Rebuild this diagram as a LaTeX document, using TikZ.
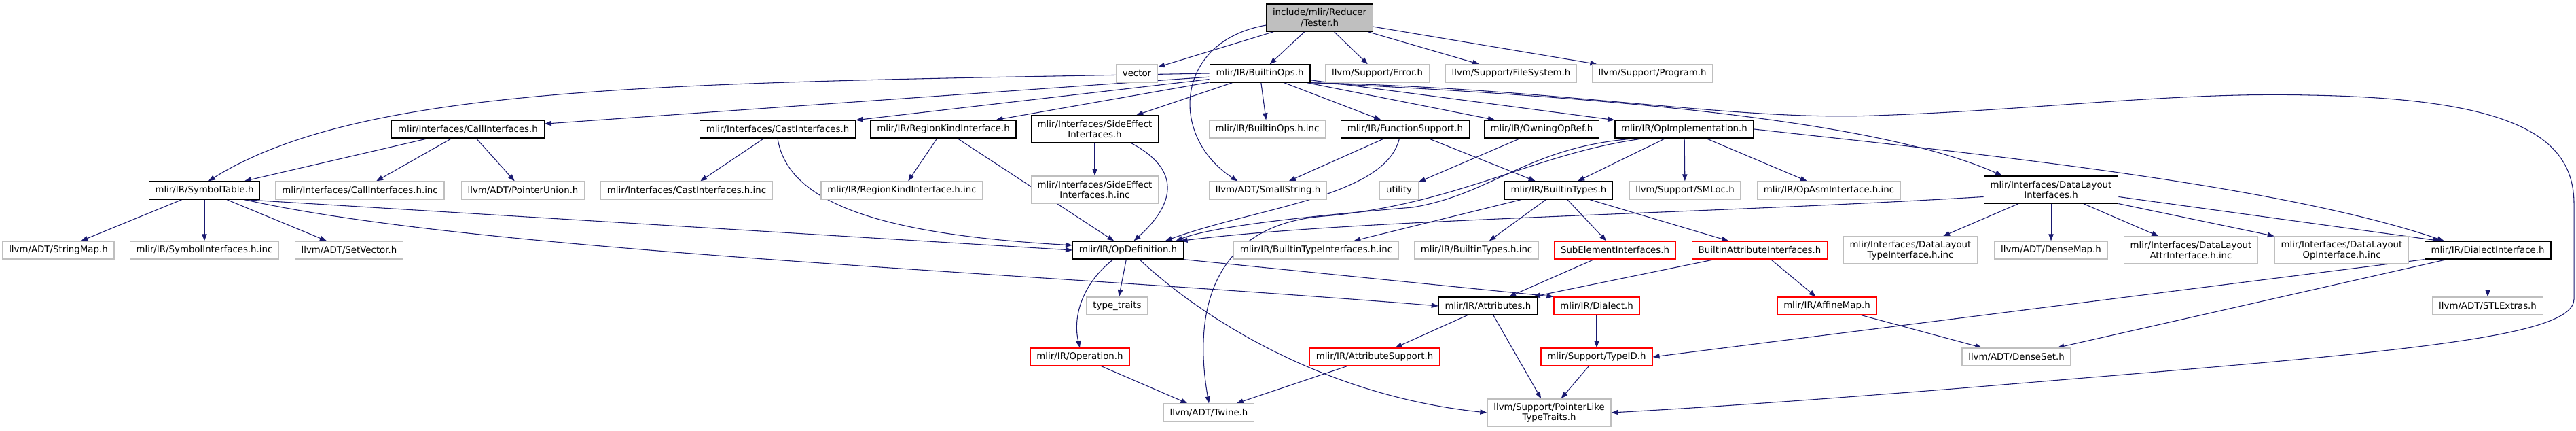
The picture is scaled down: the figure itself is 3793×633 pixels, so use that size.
\documentclass[tikz,border=0pt]{standalone}
\usepackage{fontspec}
\setmainfont{DejaVu Sans}
\usepackage{tikz}
\usetikzlibrary{arrows.meta,backgrounds}
\definecolor{edgecol}{RGB}{25,25,112}
\definecolor{extcol}{RGB}{191,191,191}
\definecolor{cutcol}{RGB}{255,0,0}
\tikzset{
  dep/.style={-{Triangle[length=7.5pt,width=5.5pt]},draw=edgecol,line width=0.8pt},
  incl/.style={draw=black,line width=1pt,fill=white,minimum height=19.5pt,
    inner xsep=7pt,inner ysep=2pt,align=center,font=\fontsize{10}{11.5}\selectfont},
  inclext/.style={incl,draw=extcol},
  inclcut/.style={incl,draw=cutcol},
  inclroot/.style={incl,fill=extcol},
  twoline/.style={minimum height=30pt}
}

\begin{document}
\begin{tikzpicture}[x=0.75pt,y=-0.75pt]
  \path[use as bounding box] (0,0) rectangle (3793,633);
  % rank 0 and 1
  \node[inclroot,twoline] (tester) at (1943,26) {include/mlir/Reducer\\/Tester.h};
  \node[inclext] (vec) at (1674,108) {vector};
  \node[incl] (bops) at (1855,108) {mlir/IR/BuiltinOps.h};
  \node[inclext] (err) at (2028,108) {llvm/Support/Error.h};
  \node[inclext] (fsys) at (2225,108) {llvm/Support/FileSystem.h};
  \node[inclext] (prog) at (2433,108) {llvm/Support/Program.h};
  % rank 2
  \node[incl] (callif) at (689,190) {mlir/Interfaces/CallInterfaces.h};
  \node[incl] (castif) at (1145,190) {mlir/Interfaces/CastInterfaces.h};
  \node[incl] (regkind) at (1389,190) {mlir/IR/RegionKindInterface.h};
  \node[incl,twoline] (sideeff) at (1612,190) {mlir/Interfaces/SideEffect\\Interfaces.h};
  \node[inclext] (bopsinc) at (1866,190) {mlir/IR/BuiltinOps.h.inc};
  \node[incl] (funcsup) at (2069,190) {mlir/IR/FunctionSupport.h};
  \node[incl] (owning) at (2270,190) {mlir/IR/OwningOpRef.h};
  \node[incl] (opimpl) at (2480,190) {mlir/IR/OpImplementation.h};
  % rank 3
  \node[incl] (symtab) at (301,280) {mlir/IR/SymbolTable.h};
  \node[inclext] (callinc) at (530,280) {mlir/Interfaces/CallInterfaces.h.inc};
  \node[inclext] (ptrunion) at (770,280) {llvm/ADT/PointerUnion.h};
  \node[inclext] (castinc) at (1011,280) {mlir/Interfaces/CastInterfaces.h.inc};
  \node[inclext] (reginc) at (1328,280) {mlir/IR/RegionKindInterface.h.inc};
  \node[inclext,twoline] (sideinc) at (1612,279) {mlir/Interfaces/SideEffect\\Interfaces.h.inc};
  \node[inclext] (smallstr) at (1867,280) {llvm/ADT/SmallString.h};
  \node[inclext] (utility) at (2060,280) {utility};
  \node[incl] (btypes) at (2295,280) {mlir/IR/BuiltinTypes.h};
  \node[inclext] (smloc) at (2481,280) {llvm/Support/SMLoc.h};
  \node[inclext] (asminc) at (2693,280) {mlir/IR/OpAsmInterface.h.inc};
  \node[incl,twoline] (dlayout) at (3020,279) {mlir/Interfaces/DataLayout\\Interfaces.h};
  % rank 4
  \node[inclext] (strmap) at (86,368) {llvm/ADT/StringMap.h};
  \node[inclext] (syminc) at (301,368) {mlir/IR/SymbolInterfaces.h.inc};
  \node[inclext] (setvec) at (514,368) {llvm/ADT/SetVector.h};
  \node[incl] (opdef) at (1661,368) {mlir/IR/OpDefinition.h};
  \node[inclext] (btiinc) at (1938,368) {mlir/IR/BuiltinTypeInterfaces.h.inc};
  \node[inclext] (btinc) at (2174,368) {mlir/IR/BuiltinTypes.h.inc};
  \node[inclcut] (subelem) at (2378,368) {SubElementInterfaces.h};
  \node[inclcut] (battr) at (2591,368) {BuiltinAttributeInterfaces.h};
  \node[inclext,twoline] (dltype) at (2813,368) {mlir/Interfaces/DataLayout\\TypeInterface.h.inc};
  \node[inclext] (densemap) at (3020,368) {llvm/ADT/DenseMap.h};
  \node[inclext,twoline] (dlattr) at (3226,368) {mlir/Interfaces/DataLayout\\AttrInterface.h.inc};
  \node[inclext,twoline] (dlop) at (3448,368) {mlir/Interfaces/DataLayout\\OpInterface.h.inc};
  \node[incl] (dialif) at (3663,368) {mlir/IR/DialectInterface.h};
  % rank 5
  \node[inclext] (typetr) at (1645,450) {type\_traits};
  \node[incl] (attrs) at (2191,450) {mlir/IR/Attributes.h};
  \node[inclcut] (dialect) at (2351,450) {mlir/IR/Dialect.h};
  \node[inclcut] (affine) at (2690,450) {mlir/IR/AffineMap.h};
  \node[inclext] (stlext) at (3663,450) {llvm/ADT/STLExtras.h};
  % rank 6 and 7
  \node[inclcut] (operation) at (1590,525) {mlir/IR/Operation.h};
  \node[inclcut] (attrsup) at (2024,525) {mlir/IR/AttributeSupport.h};
  \node[inclcut] (typeid) at (2351,525) {mlir/Support/TypeID.h};
  \node[inclext] (denseset) at (2969,525) {llvm/ADT/DenseSet.h};
  \node[inclext] (twine) at (1780,607) {llvm/ADT/Twine.h};
  \node[inclext,twoline] (ptrlike) at (2281,607) {llvm/Support/PointerLike\\TypeTraits.h};

  \begin{scope}[on background layer]
    \fill[white] (0,0) rectangle (3793,633);
    % Tester.h
    \draw[dep] (tester) -- (vec);
    \draw[dep] (tester) -- (bops);
    \draw[dep] (tester) -- (err);
    \draw[dep] (tester) -- (fsys);
    \draw[dep] (tester) -- (prog);
    \draw[dep] (tester.188) .. controls (1730,60) and (1720,200) .. (smallstr.163);
    % BuiltinOps.h
    \draw[dep] (bops.west) .. controls (1000,122) and (540,122) .. (symtab.67);
    \draw[dep] (bops) -- (callif);
    \draw[dep] (bops) -- (castif);
    \draw[dep] (bops) -- (regkind);
    \draw[dep] (bops) -- (sideeff);
    \draw[dep] (bops) -- (bopsinc);
    \draw[dep] (bops) -- (funcsup);
    \draw[dep] (bops) -- (owning);
    \draw[dep] (bops) -- (opimpl);
    \draw[dep] (bops.south east) .. controls (2300,140) and (2750,170) .. (dlayout.164);
    \draw[dep] (bops.south east) .. controls (2300,130) and (2550,178) .. (2760,170)
      .. controls (3000,162) and (3200,135) .. (3400,140)
      .. controls (3700,145) and (3790,200) .. (3790,300) -- (3790,440)
      .. controls (3790,500) and (3500,520) .. (2900,570)
      .. controls (2650,590) and (2500,600) .. (ptrlike.east);
    % second rank
    \draw[dep] (callif) -- (symtab);
    \draw[dep] (callif) -- (callinc);
    \draw[dep] (callif) -- (ptrunion);
    \draw[dep] (castif) -- (castinc);
    \draw[dep] (castif.south) .. controls (1160,300) and (1300,345) .. (opdef.175);
    \draw[dep] (regkind) -- (reginc);
    \draw[dep] (regkind) -- (opdef);
    \draw[dep] (sideeff) -- (sideinc);
    \draw[dep] (sideeff.339) .. controls (1740,250) and (1730,300) .. (opdef.58);
    \draw[dep] (funcsup) -- (smallstr);
    \draw[dep] (funcsup) -- (btypes);
    \draw[dep] (funcsup.238) .. controls (2040,290) and (1850,305) .. (opdef.14);
    \draw[dep] (owning) -- (utility);
    \draw[dep] (opimpl) -- (btypes);
    \draw[dep] (opimpl) -- (smloc);
    \draw[dep] (opimpl) -- (asminc);
    \draw[dep] (opimpl.east) .. controls (2900,225) and (3350,270) .. (dialif.168);
    \draw[dep] (opimpl.191) .. controls (2250,215) and (2200,285) .. (2080,305)
      .. controls (1900,320) and (1780,335) .. (opdef.11);
    \draw[dep] (opimpl.193) .. controls (2260,225) and (2150,300) .. (1950,318)
      .. controls (1790,330) and (1755,450) .. (twine.north);
    % third rank
    \draw[dep] (symtab) -- (strmap);
    \draw[dep] (symtab) -- (syminc);
    \draw[dep] (symtab) -- (setvec);
    \draw[dep] (symtab.347) -- (opdef.west);
    \draw[dep] (symtab.347) .. controls (700,370) and (1500,400) .. (attrs.west);
    \draw[dep] (btypes) -- (btiinc);
    \draw[dep] (btypes) -- (btinc);
    \draw[dep] (btypes) -- (subelem);
    \draw[dep] (btypes) -- (battr);
    \draw[dep] (dlayout.186) .. controls (2500,315) and (2000,322) .. (opdef.10);
    \draw[dep] (dlayout) -- (dltype);
    \draw[dep] (dlayout) -- (densemap);
    \draw[dep] (dlayout) -- (dlattr);
    \draw[dep] (dlayout) -- (dlop);
    \draw[dep] (dlayout.354) -- (dialif.169);
    % fourth rank
    \draw[dep] (opdef) -- (typetr);
    \draw[dep] (opdef.212) .. controls (1590,420) and (1580,470) .. (operation.north);
    \draw[dep] (opdef.321) .. controls (1750,450) and (1930,580) .. (ptrlike.west);
    \draw[dep] (opdef.south east) -- (dialect.north west);
    \draw[dep] (subelem) -- (attrs);
    \draw[dep] (battr) -- (attrs);
    \draw[dep] (battr) -- (affine);
    \draw[dep] (dialif.south west) -- (typeid.east);
    \draw[dep] (dialif) -- (denseset);
    \draw[dep] (dialif) -- (stlext);
    % lower ranks
    \draw[dep] (attrs) -- (attrsup);
    \draw[dep] (attrs) -- (ptrlike);
    \draw[dep] (dialect) -- (typeid);
    \draw[dep] (affine) -- (denseset);
    \draw[dep] (typeid) -- (ptrlike);
    \draw[dep] (operation) -- (twine);
    \draw[dep] (attrsup) -- (twine);
  \end{scope}
\end{tikzpicture}
\end{document}
